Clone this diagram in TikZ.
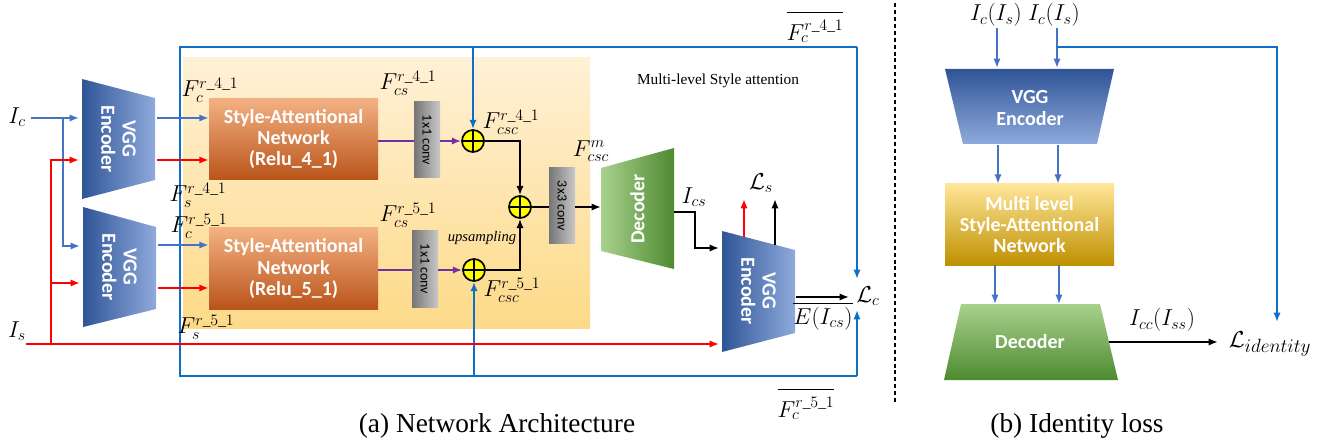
\documentclass[tikz,border=0pt]{standalone}
\usepackage{amsmath}
\usepackage{fontspec}
\setmainfont{Liberation Serif}
\newfontfamily\boxfont{Carlito}
\usetikzlibrary{arrows.meta}
\definecolor{lineblue}{HTML}{4472C4}
\definecolor{frameblue}{HTML}{0F6FC6}
\definecolor{linered}{HTML}{FF0000}
\definecolor{linepurple}{HTML}{7030A0}
\definecolor{encdark}{HTML}{2F5597}
\definecolor{enclight}{HTML}{8FAADC}
\definecolor{decdark}{HTML}{4E8A30}
\definecolor{declight}{HTML}{A9D18E}
\definecolor{santop}{HTML}{F4B183}
\definecolor{sanbot}{HTML}{B9541A}
\definecolor{bgtop}{HTML}{FFF1D6}
\definecolor{bgbot}{HTML}{FDDA88}
\definecolor{msantop}{HTML}{FFE699}
\definecolor{msanbot}{HTML}{BF9000}
\definecolor{convdark}{HTML}{767676}
\definecolor{convlight}{HTML}{C8C8C8}
\definecolor{plusfill}{HTML}{FFFF00}
\newcommand\mathlab{\fontsize{16.5}{18}\selectfont}
\newcommand\us{\text{\_}}
\newcommand\barstrut{\rule{0pt}{1.12em}}
\tikzset{
  ar/.style={-{Latex[length=7pt,width=5.5pt]}},
  bl/.style={draw=lineblue, line width=1.4pt},
  fr/.style={draw=frameblue, line width=1.5pt},
  rd/.style={draw=linered, line width=1.4pt},
  bk/.style={draw=black, line width=1.4pt},
  pu/.style={draw=linepurple, line width=1.4pt},
  lab/.style={inner sep=0.5pt, font=\mathlab},
  boxtxt/.style={text=white, font=\boxfont\bfseries\fontsize{15}{16}\selectfont, align=center, inner sep=0pt},
  sanbox/.style={rectangle, top color=santop, bottom color=sanbot, minimum width=126.75pt, minimum height=60.75pt, inner sep=0pt, boxtxt},
  msanbox/.style={rectangle, top color=msantop, bottom color=msanbot, minimum width=126.75pt, minimum height=60.75pt, inner sep=0pt, boxtxt},
  convbox/.style={rectangle, left color=convdark, right color=convlight, minimum width=19.5pt, minimum height=57pt, inner sep=0pt},
  convtxt/.style={font=\boxfont\fontsize{10.5}{12}\selectfont, text=black, inner sep=0pt, rotate=-90},
  plusnode/.style={circle, draw=black, line width=1.3pt, fill=plusfill, minimum size=16.5pt, inner sep=0pt,
    path picture={\draw[line width=1.3pt] (path picture bounding box.north) -- (path picture bounding box.south)
      (path picture bounding box.west) -- (path picture bounding box.east);}},
}
\begin{document}
\begin{tikzpicture}[x=0.75pt,y=-0.75pt]
\useasboundingbox (0,0) rectangle (1325,442);

% ---------------- (a) Network Architecture ----------------
\shade[top color=bgtop, bottom color=bgbot] (183,58) rectangle (590,328);

\coordinate (ftl) at (180,47);
\coordinate (ftr) at (857,47);
\coordinate (fbl) at (180,376);
\coordinate (fbr) at (857,376);
\coordinate (lctop) at (857,279);
\coordinate (lcbot) at (857,310);

% encoders (a)
\shade[left color=encdark, right color=enclight] (82,79) -- (155,98) -- (155,180) -- (82,199) -- cycle;
\node[boxtxt, rotate=-90] (enc1) at (118.5,139) {VGG\\Encoder};
\shade[left color=encdark, right color=enclight] (83,207) -- (156,227) -- (156,309) -- (83,327) -- cycle;
\node[boxtxt, rotate=-90] (enc2) at (119.5,267) {VGG\\Encoder};
\shade[left color=encdark, right color=enclight] (722,231) -- (795,250) -- (795,333) -- (722,352) -- cycle;
\node[boxtxt, rotate=-90] (enc3) at (758.5,291) {VGG\\Encoder};
% decoder (a)
\shade[left color=declight, right color=decdark] (601,168) -- (674,148) -- (674,269) -- (601,251) -- cycle;
\node[boxtxt, rotate=90] (dec) at (637.5,209) {Decoder};

% SAN boxes
\node[sanbox] (san1) at (293.5,139) {Style-Attentional\\Network\\(Relu\_4\_1)};
\node[sanbox] (san2) at (293.5,268.5) {Style-Attentional\\Network\\(Relu\_5\_1)};

% conv boxes
\node[convbox] (conv1) at (427,140) {};
\node[convtxt] (conv1t) at (conv1) {1x1 conv};
\node[convbox] (conv2) at (425,269) {};
\node[convtxt] (conv2t) at (conv2) {1x1 conv};
\node[convbox] (conv3) at (562,206) {};
\node[convtxt] (conv3t) at (conv3) {3x3 conv};

% plus nodes
\node[plusnode] (p1) at (473,141) {};
\node[plusnode] (p2) at (520,207) {};
\node[plusnode] (p3) at (474,270) {};

% ports
\coordinate (icstart) at (31,118);
\coordinate (csplit) at (63,118);
\coordinate (e1inc) at (79,118);
\coordinate (e2inc) at (80,246);
\coordinate (isstart) at (26,344);
\coordinate (rsplit) at (51,344);
\coordinate (e1ins) at (79,160);
\coordinate (e2ins) at (80,283);
\coordinate (e3ins) at (719,344);
\coordinate (e1outc) at (157,118);
\coordinate (e1outs) at (157,160);
\coordinate (e2outc) at (158,245);
\coordinate (e2outs) at (158,288);
\coordinate (decin) at (601,207);
\coordinate (decout) at (674,212);
\coordinate (icsbend) at (695,212);
\coordinate (e3inc) at (719,248);
\coordinate (e3topr) at (744,237);
\coordinate (e3topb) at (775,245);
\coordinate (lsr) at (744,199);
\coordinate (lsb) at (775,199);
\coordinate (e3out) at (796,297);
\coordinate (lcin) at (849,297);

% frame lines
\draw[fr] (ftr) -- (ftl) -- (fbl) -- (fbr);
\draw[fr,ar] (ftr) -- (lctop);
\draw[fr,ar] (fbr) -- (lcbot);
\draw[fr,ar] (p1 |- ftl) -- (p1.north);
\draw[fr,ar] (p3 |- fbl) -- (p3.south);

% inputs
\draw[bl,ar] (icstart) -- (e1inc);
\draw[bl,ar] (csplit) |- (e2inc);
\draw[rd,ar] (isstart) -- (e3ins);
\draw[rd,ar] (rsplit) |- (e1ins);
\draw[rd,ar] (rsplit |- e2ins) -- (e2ins);

% encoder outputs
\draw[bl,ar] (e1outc) -- (san1.west |- e1outc);
\draw[rd,ar] (e1outs) -- (san1.west |- e1outs);
\draw[bl,ar] (e2outc) -- (san2.west |- e2outc);
\draw[rd,ar] (e2outs) -- (san2.west |- e2outs);

% SAN to conv to plus
\draw[pu] (san1.east |- p1) -- (conv1.west |- p1);
\draw[pu,ar] (conv1.east |- p1) -- (p1.west);
\draw[pu] (san2.east |- p3) -- (conv2.west |- p3);
\draw[pu,ar] (conv2.east |- p3) -- (p3.west);

% merging
\draw[bk,ar] (p1.east) -| (p2.north);
\draw[bk,ar] (p3.east) -| (p2.south);
\draw[bk] (p2.east) -- (conv3.west |- p2);
\draw[bk,ar] (conv3.east |- decin) -- (decin);
\draw[bk,ar] (decout) -- (icsbend) |- (e3inc);
\draw[rd,ar] (e3topr) -- (lsr);
\draw[bk,ar] (e3topb) -- (lsb);
\draw[bk,ar] (e3out) -- (lcin);

% labels (a)
\node[lab] (Ic) at (17,117) {$I_c$};
\node[lab] (Is) at (17,331) {$I_s$};
\node[lab] (Fc4) at (210,90) {$F_c^{r\us 4\us 1}$};
\node[lab] (Fs4) at (198,195) {$F_s^{r\us 4\us 1}$};
\node[lab] (Fc5) at (199,226) {$F_c^{r\us 5\us 1}$};
\node[lab] (Fs5) at (206,327) {$F_s^{r\us 5\us 1}$};
\node[lab] (Fcs4) at (408,83) {$F_{cs}^{r\us 4\us 1}$};
\node[lab] (Fcs5) at (408,215) {$F_{cs}^{r\us 5\us 1}$};
\node[lab] (Fcsc4) at (511,122) {$F_{csc}^{r\us 4\us 1}$};
\node[lab] (Fcsc5) at (512,290) {$F_{csc}^{r\us 5\us 1}$};
\node[lab] (Fcscm) at (591,151) {$F_{csc}^{m}$};
\node[inner sep=0pt, font=\fontsize{11}{13}\selectfont\itshape] (ups) at (482,238) {upsampling};
\node[inner sep=0pt, font=\fontsize{11.5}{13}\selectfont] (mlsa) at (718,81) {Multi-level Style attention};
\node[lab] (Ics) at (694,197) {$I_{cs}$};
\node[lab] (Ls) at (761,183) {$\mathcal{L}_s$};
\node[lab] (Lc) at (868,296) {$\mathcal{L}_c$};
\node[lab] (EIcs) at (823,316) {$\overline{E(I_{cs})}$};
\node[lab] (Fc4bar) at (815,27) {$\overline{\barstrut F_c^{r\us 4\us 1}}$};
\node[lab] (Fc5bar) at (806,404) {$\overline{\barstrut F_c^{r\us 5\us 1}}$};
\node[inner sep=0pt, font=\fontsize{20.5}{24}\selectfont] (capa) at (497,426) {(a) Network Architecture};

% ---------------- separator ----------------
\coordinate (septop) at (895,3);
\coordinate (sepbot) at (895,403);
\draw[black, line width=1.6pt, dash pattern=on 3pt off 2.2pt] (septop) -- (sepbot);

% ---------------- (b) Identity loss ----------------
\shade[top color=encdark, bottom color=enclight] (945,69) -- (1114,69) -- (1097,144) -- (963,144) -- cycle;
\node[boxtxt] (encb) at (1030,108) {VGG\\Encoder};
\node[msanbox] (msan) at (1029.5,224.5) {Multi level\\Style-Attentional\\Network};
\shade[top color=declight, bottom color=decdark] (961,304) -- (1100,304) -- (1118,380) -- (944,380) -- cycle;
\node[boxtxt] (decb) at (1030,342) {Decoder};

\node[lab] (Ics1) at (996,15) {$I_c(I_s)$};
\node[lab] (Ics2) at (1054,15) {$I_c(I_s)$};
\coordinate (ina) at (997,28);
\coordinate (inb) at (1057,28);
\coordinate (encbtop) at (1030,68);
\coordinate (idsplit) at (1057,47);
\coordinate (lidin) at (1277,322);
\coordinate (decbout) at (1109,342);
\coordinate (lidarr) at (1218,342);
\coordinate (ma) at (998,145);
\coordinate (mb) at (1058,145);
\coordinate (da) at (995,265);
\coordinate (db) at (1059,265);
\coordinate (decbtop) at (1030,304);

\draw[bl,ar] (ina) -- (ina |- encbtop);
\draw[bl,ar] (inb) -- (inb |- encbtop);
\draw[fr,ar] (idsplit) -| (lidin);
\draw[bl,ar] (ma) -- (ma |- msan.north);
\draw[bl,ar] (mb) -- (mb |- msan.north);
\draw[bl,ar] (da) -- (da |- decbtop);
\draw[bl,ar] (db) -- (db |- decbtop);
\draw[bk,ar] (decbout) -- (lidarr);

\node[lab] (Icc) at (1162,320) {$I_{cc}(I_{ss})$};
\node[lab, font=\fontsize{19}{21}\selectfont] (Lid) at (1270,344) {$\mathcal{L}_{identity}$};
\node[inner sep=0pt, font=\fontsize{20.5}{24}\selectfont] (capb) at (1077,426) {(b) Identity loss};
\end{tikzpicture}
\end{document}
